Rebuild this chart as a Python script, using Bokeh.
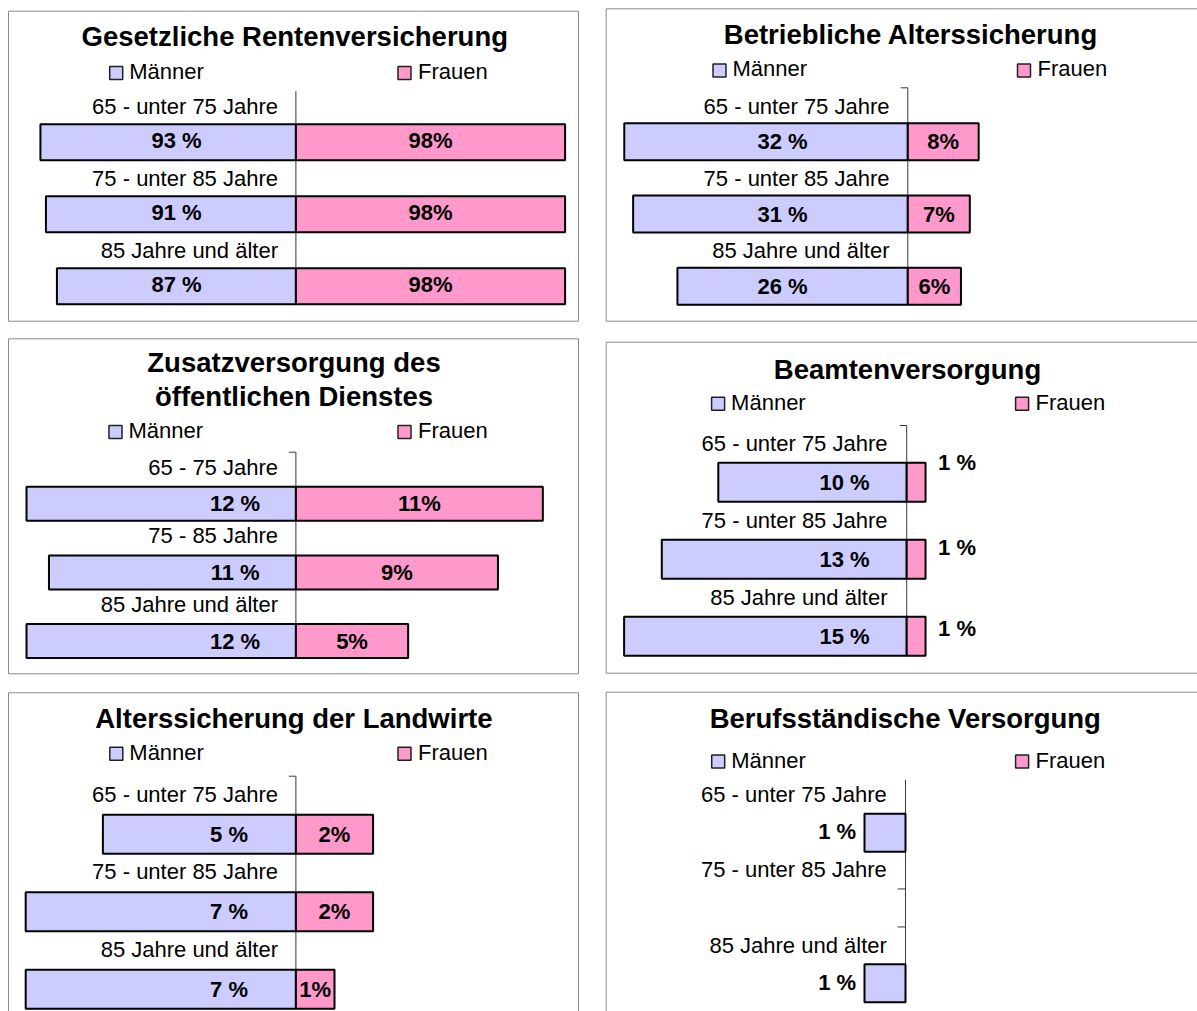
from bokeh.plotting import figure
from bokeh.models import Range1d
from bokeh.layouts import column, row
from bokeh.embed import file_html
from bokeh.resources import INLINE
from bokeh.core.properties import value

FONT = "Liberation Sans"
MEN_FILL = "#CCCCFF"
WOMEN_FILL = "#FF99CC"
BOX_COLOR = "#8a8a8a"
AXIS_COLOR = "#3a3a3a"

# ---------------- data ----------------
legend_labels = ["Männer", "Frauen"]
ages_long = ["65 - unter 75 Jahre", "75 - unter 85 Jahre", "85 Jahre und älter"]
ages_short = ["65 - 75 Jahre", "75 - 85 Jahre", "85 Jahre und älter"]

grv_title = ["Gesetzliche Rentenversicherung"]
grv_men = [93, 91, 87]
grv_women = [98, 98, 98]

bav_title = ["Betriebliche Alterssicherung"]
bav_men = [32, 31, 26]
bav_women = [8, 7, 6]

zvo_title = ["Zusatzversorgung des", "öffentlichen Dienstes"]
zvo_men = [12, 11, 12]
zvo_women = [11, 9, 5]

bea_title = ["Beamtenversorgung"]
bea_men = [10, 13, 15]
bea_women = [1, 1, 1]

alg_title = ["Alterssicherung der Landwirte"]
alg_men = [5, 7, 7]
alg_women = [2, 2, 1]

bsv_title = ["Berufsständische Versorgung"]
bsv_men = [1, None, 1]
bsv_women = [None, None, None]


def txt(p, xs, ys, texts, size="22px", bold=False, align="left"):
    p.text(x=xs, y=ys, text=texts, text_font=value(FONT), text_font_size=size,
           text_font_style="bold" if bold else "normal", text_color="black",
           text_align=align, text_baseline="middle")


def panel(cfg, title_lines, cats, men, women, men_fmt="{} %", women_fmt="{}%"):
    gx, gy, w, h = cfg["cell"]
    cx, s, y0, pitch = cfg["cx"], cfg["s"], cfg["y0"], cfg["pitch"]

    def X(px):
        return (px - cx) / s

    def Y(py):
        return (y0 - py) / pitch

    p = figure(width=w, height=h, x_range=Range1d(X(gx), X(gx + w)),
               y_range=Range1d(Y(gy + h), Y(gy)), x_axis_type=None, y_axis_type=None,
               toolbar_location=None, output_backend="svg", min_border=0,
               outline_line_color=None, background_fill_color="white",
               border_fill_color="white")

    # panel frame
    l, t, r, b = cfg["box"]
    l = max(l, gx + 0.5)
    t = max(t, gy + 0.5)
    p.line(x=[X(l), X(r), X(r), X(l), X(l)], y=[Y(t), Y(t), Y(b), Y(b), Y(t)],
           line_color=BOX_COLOR, line_width=1)

    # central axis
    p.segment(x0=[0], y0=[Y(cfg["axis"][0])], x1=[0], y1=[Y(cfg["axis"][1])],
              line_color=AXIS_COLOR, line_width=1)
    if cfg.get("top_tick"):
        p.segment(x0=[X(cx - 7)], y0=[Y(cfg["axis"][0])], x1=[0], y1=[Y(cfg["axis"][0])],
                  line_color=AXIS_COLOR, line_width=1)

    n = len(cats)
    hh = cfg["bar_h"] / pitch
    mi = [i for i in range(n) if men[i] is not None]
    wi = [i for i in range(n) if women[i] is not None]

    if mi:
        p.hbar(y=[-i for i in mi], left=[-men[i] for i in mi], right=0, height=hh,
               fill_color=MEN_FILL, line_color="black", line_width=2)
    if wi:
        p.hbar(y=[-i for i in wi], left=0, right=[women[i] for i in wi], height=hh,
               fill_color=WOMEN_FILL, line_color="black", line_width=2)

    # empty category ticks
    if cfg.get("gap_ticks"):
        gi = [i for i in range(n) if men[i] is None]
        for i in gi:
            p.segment(x0=[X(cx - 8), X(cx - 8)], y0=[-i + hh / 2, -i - hh / 2],
                      x1=[0, 0], y1=[-i + hh / 2, -i - hh / 2],
                      line_color=AXIS_COLOR, line_width=1)

    dy = cfg.get("lab_dy", 1) / pitch
    # men labels
    if cfg.get("men_out"):
        txt(p, [X(cfg["men_out"])] * len(mi), [-i + dy for i in mi],
            [men_fmt.format(men[i]) for i in mi], bold=True, align="right")
    else:
        txt(p, [X(cfg["m_lab_x"])] * len(mi), [-i + dy for i in mi],
            [men_fmt.format(men[i]) for i in mi], bold=True, align="center")
    # women labels
    if cfg.get("women_out"):
        ox, odys = cfg["women_out"]
        txt(p, [X(ox)] * len(wi), [-i + odys[i] / pitch for i in wi],
            [women_fmt.format(women[i]) for i in wi], bold=True, align="center")
    else:
        txt(p, [women[i] / 2 for i in wi], [-i + dy for i in wi],
            [women_fmt.format(women[i]) for i in wi], bold=True, align="center")

    # category labels
    cy = Y(cfg["cat_y0"])
    txt(p, [X(cfg["cat_x"])] * n, [cy - i for i in range(n)], cats, align="right")

    # title
    txt(p, [X(cfg["title_cx"])] * len(title_lines), [Y(v) for v in cfg["title_ys"]],
        title_lines, size="27.5px", bold=True, align="center")

    # legend
    msq, fsq = cfg["leg_x"]
    ty, sy = cfg["leg_y"]
    p.scatter(x=[X(msq), X(fsq)], y=[Y(sy), Y(sy)], marker="square", size=13,
              fill_color=[MEN_FILL, WOMEN_FILL], line_color="#202020", line_width=1.5)
    txt(p, [X(msq + 13), X(fsq + 13.5)], [Y(ty), Y(ty)], legend_labels)
    return p


OPEN_R = 1300
OPEN_B = 1100

cfg1 = dict(cell=(0, 0, 597, 330), box=(8, 10.7, 578, 320.7), cx=295.4, s=2.747,
            y0=141.7, pitch=72.05, bar_h=36, axis=(90.7, 304), top_tick=False,
            title_cx=294.3, title_ys=[35.8], leg_x=(115.7, 404), leg_y=(70.8, 72.5),
            cat_x=277.5, cat_y0=105.8, m_lab_x=176, lab_dy=1.5)
cfg2 = dict(cell=(597, 0, 600, 330), box=(605.7, 8.3, OPEN_R, 320.7), cx=907.3, s=8.86,
            y0=141.3, pitch=72.2, bar_h=37, axis=(87.3, 304), top_tick=True,
            title_cx=910.5, title_ys=[33.8], leg_x=(719, 1023.5), leg_y=(67.5, 70),
            cat_x=889, cat_y0=105.8, m_lab_x=782, lab_dy=0)
cfg3 = dict(cell=(0, 330, 597, 353), box=(8, 338.3, 578, 673.3), cx=295.4, s=22.45,
            y0=503.3, pitch=68.6, bar_h=34, axis=(451.7, 657.7), top_tick=True,
            title_cx=293.5, title_ys=[362, 395.5], leg_x=(115, 404), leg_y=(429.5, 431.5),
            cat_x=277.5, cat_y0=466.7, m_lab_x=234.6, lab_dy=0)
cfg4 = dict(cell=(597, 330, 600, 353), box=(605.7, 341.7, OPEN_R, 672.7), cx=906.2, s=18.84,
            y0=481.7, pitch=77.05, bar_h=39, axis=(425, 655), top_tick=True,
            title_cx=907, title_ys=[369.2], leg_x=(717.6, 1021.6), leg_y=(401.7, 403.3),
            cat_x=887, cat_y0=442.5, m_lab_x=844, lab_dy=0,
            women_out=(956.5, [19.7, 11.5, 7.5]))
cfg5 = dict(cell=(0, 683, 597, 328), box=(8, 692.3, 578, OPEN_B), cx=295.4, s=38.6,
            y0=833.7, pitch=77.55, bar_h=39, axis=(775.7, 1008), top_tick=True,
            title_cx=293.4, title_ys=[718], leg_x=(115.8, 404), leg_y=(752, 753.3),
            cat_x=277.5, cat_y0=793.8, m_lab_x=228.5, lab_dy=0)
cfg6 = dict(cell=(597, 683, 600, 328), box=(605.7, 691.7, OPEN_R, OPEN_B), cx=905, s=41,
            y0=832.2, pitch=75.25, bar_h=38, axis=(779.3, 1001.7), top_tick=False,
            title_cx=904.8, title_ys=[717.5], leg_x=(717.7, 1021.6), leg_y=(759.5, 761),
            cat_x=886.3, cat_y0=794, men_out=855.6, lab_dy=1, gap_ticks=True)

p1 = panel(cfg1, grv_title, ages_long, grv_men, grv_women)
p2 = panel(cfg2, bav_title, ages_long, bav_men, bav_women)
p3 = panel(cfg3, zvo_title, ages_short, zvo_men, zvo_women)
p4 = panel(cfg4, bea_title, ages_long, bea_men, bea_women, women_fmt="{} %")
p5 = panel(cfg5, alg_title, ages_long, alg_men, alg_women)
p6 = panel(cfg6, bsv_title, ages_long, bsv_men, bsv_women)

layout = column(row(p1, p2), row(p3, p4), row(p5, p6))
open("out.html", "w").write(file_html(layout, INLINE))
